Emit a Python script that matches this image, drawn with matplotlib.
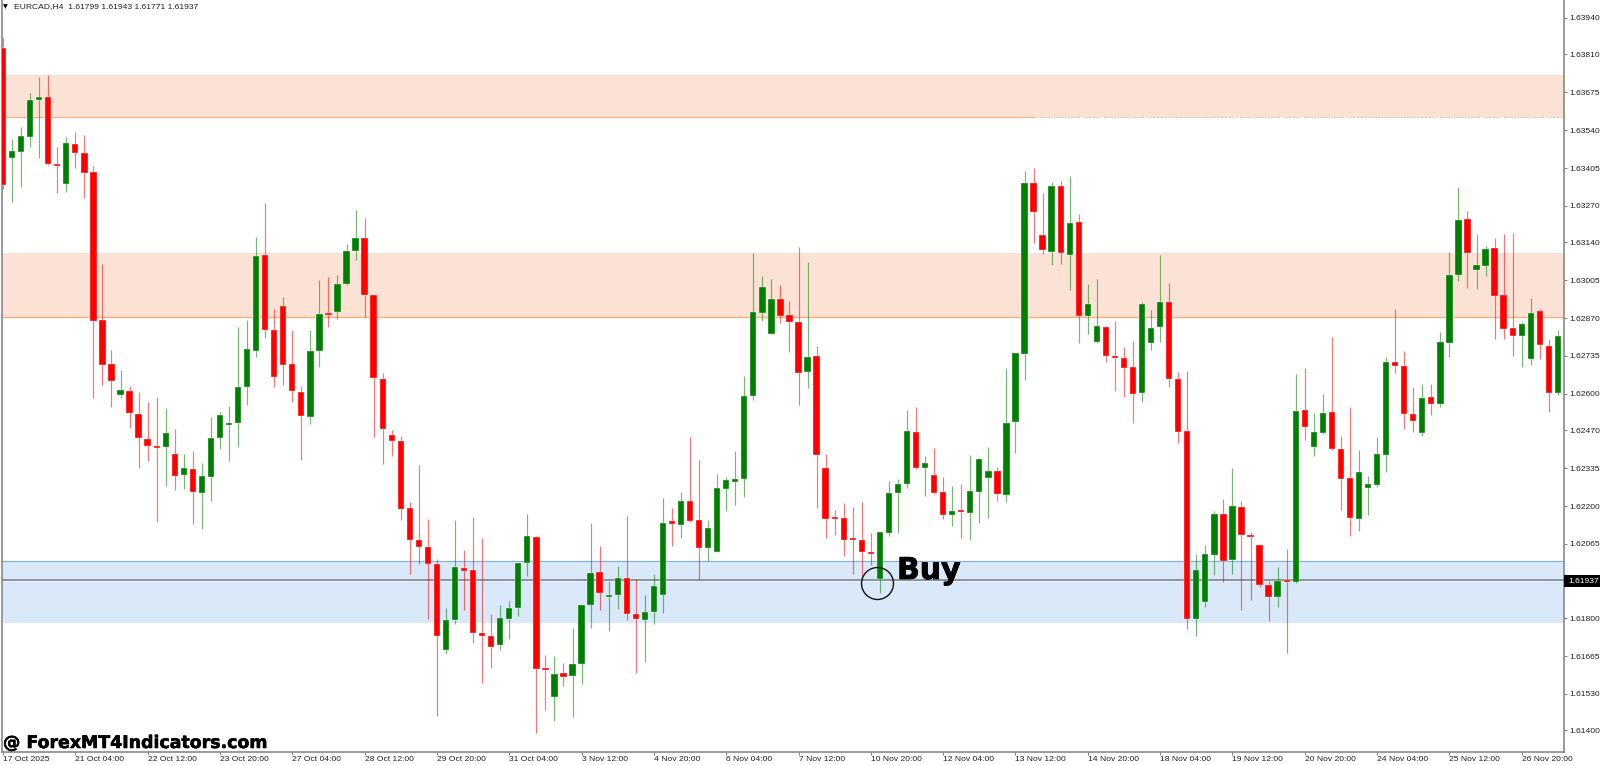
import matplotlib
matplotlib.use("Agg")
import numpy as np
import matplotlib.pyplot as plt
import matplotlib.patheffects as pe
from matplotlib.patches import Rectangle

# EURCAD H4 candles
opens = [1.63833, 1.63441, 1.63462, 1.63516, 1.63648, 1.63658, 1.63416, 1.63348, 1.63491, 1.63459, 1.63391, 1.62863, 1.62707, 1.62596, 1.62610, 1.62528, 1.62439, 1.62414, 1.62411, 1.62386, 1.62311, 1.62332, 1.62247, 1.62304, 1.62443,
         1.62489, 1.62496, 1.62625, 1.62753, 1.63095, 1.62828, 1.62913, 1.62707, 1.62607, 1.62518, 1.62753, 1.62885, 1.62892, 1.62992, 1.63109, 1.63156, 1.62953, 1.62653, 1.62453, 1.62432, 1.62193, 1.62079, 1.62054, 1.61994, 1.61687,
         1.61794, 1.61979, 1.61972, 1.61748, 1.61737, 1.61705, 1.61797, 1.61837, 1.61997, 1.62090, 1.61623, 1.61519, 1.61605, 1.61594, 1.61637, 1.61847, 1.61965, 1.61876, 1.61883, 1.61944, 1.61815, 1.61794, 1.61822, 1.61883, 1.62147,
         1.62133, 1.62218, 1.62150, 1.62051, 1.62036, 1.62261, 1.62286, 1.62297, 1.62592, 1.62888, 1.62814, 1.62938, 1.62881, 1.62856, 1.62678, 1.62735, 1.62336, 1.62158, 1.62158, 1.62083, 1.62079, 1.62036, 1.61940, 1.62104, 1.62247,
         1.62279, 1.62464, 1.62336, 1.62311, 1.62250, 1.62168, 1.62183, 1.62175, 1.62250, 1.62300, 1.62325, 1.62240, 1.62500, 1.62742, 1.63352, 1.63166, 1.63106, 1.63341, 1.63095, 1.63213, 1.62878, 1.62785, 1.62838, 1.62735, 1.62728,
         1.62696, 1.62603, 1.62781, 1.62838, 1.62928, 1.62653, 1.62468, 1.61797, 1.61858, 1.62026, 1.62172, 1.62008, 1.62197, 1.62097, 1.62061, 1.61919, 1.61876, 1.61937, 1.61929, 1.62543, 1.62411, 1.62461, 1.62535, 1.62404, 1.62300,
         1.62154, 1.62265, 1.62275, 1.62382, 1.62714, 1.62699, 1.62528, 1.62461, 1.62589, 1.62564, 1.62781, 1.63024, 1.63223, 1.63042, 1.63056, 1.63120, 1.62953, 1.62835, 1.62806, 1.62724, 1.62896, 1.62771, 1.62603]
highs = [1.63872, 1.63509, 1.63551, 1.63673, 1.63730, 1.63737, 1.63480, 1.63516, 1.63534, 1.63523, 1.63412, 1.63063, 1.62756, 1.62685, 1.62628, 1.62607, 1.62571, 1.62589, 1.62550, 1.62475, 1.62386, 1.62396, 1.62354, 1.62518, 1.62535,
         1.62557, 1.62838, 1.62863, 1.63159, 1.63281, 1.62903, 1.62945, 1.62828, 1.62628, 1.62828, 1.63006, 1.63017, 1.63024, 1.63134, 1.63256, 1.63227, 1.62953, 1.62674, 1.62471, 1.62450, 1.62215, 1.62347, 1.62154, 1.62011, 1.61837,
         1.62150, 1.62043, 1.62161, 1.62086, 1.61815, 1.61847, 1.61862, 1.61997, 1.62172, 1.62093, 1.61669, 1.61666, 1.61641, 1.61765, 1.61847, 1.62140, 1.62058, 1.61933, 1.61986, 1.62165, 1.61940, 1.61883, 1.61958, 1.62229, 1.62193,
         1.62250, 1.62446, 1.62364, 1.62150, 1.62314, 1.62304, 1.62396, 1.62664, 1.63102, 1.63020, 1.63010, 1.62988, 1.62931, 1.63124, 1.63070, 1.62771, 1.62386, 1.62186, 1.62211, 1.62197, 1.62215, 1.62104, 1.62108, 1.62289, 1.62297,
         1.62543, 1.62553, 1.62379, 1.62407, 1.62304, 1.62272, 1.62279, 1.62382, 1.62368, 1.62411, 1.62339, 1.62692, 1.62746, 1.63395, 1.63405, 1.63316, 1.63355, 1.63359, 1.63377, 1.63241, 1.62992, 1.63010, 1.62842, 1.62860, 1.62767,
         1.62789, 1.62928, 1.62899, 1.63095, 1.62995, 1.62678, 1.62682, 1.62029, 1.62061, 1.62183, 1.62225, 1.62336, 1.62218, 1.62108, 1.62061, 1.61933, 1.61983, 1.62047, 1.62671, 1.62692, 1.62532, 1.62600, 1.62803, 1.62450, 1.62553,
         1.62400, 1.62307, 1.62446, 1.62732, 1.62903, 1.62753, 1.62625, 1.62635, 1.62635, 1.62821, 1.63106, 1.63338, 1.63252, 1.63170, 1.63127, 1.63156, 1.63170, 1.63174, 1.62856, 1.62942, 1.62903, 1.62796, 1.62828]
lows = [1.63330, 1.63284, 1.63338, 1.63480, 1.63441, 1.63416, 1.63316, 1.63320, 1.63405, 1.63298, 1.62585, 1.62632, 1.62553, 1.62585, 1.62478, 1.62336, 1.62361, 1.62143, 1.62272, 1.62257, 1.62261, 1.62136, 1.62118, 1.62218, 1.62404,
        1.62361, 1.62411, 1.62560, 1.62732, 1.62799, 1.62625, 1.62632, 1.62571, 1.62364, 1.62493, 1.62696, 1.62838, 1.62867, 1.62988, 1.63077, 1.62874, 1.62446, 1.62350, 1.62379, 1.62150, 1.61958, 1.61994, 1.61797, 1.61452, 1.61673,
        1.61780, 1.61830, 1.61712, 1.61569, 1.61623, 1.61687, 1.61726, 1.61808, 1.61951, 1.61391, 1.61473, 1.61434, 1.61559, 1.61448, 1.61566, 1.61765, 1.61830, 1.61755, 1.61833, 1.61794, 1.61605, 1.61644, 1.61780, 1.61819, 1.62058,
        1.62086, 1.62143, 1.61937, 1.62004, 1.62036, 1.62183, 1.62204, 1.62232, 1.62578, 1.62860, 1.62814, 1.62853, 1.62749, 1.62560, 1.62621, 1.62193, 1.62086, 1.62097, 1.62022, 1.61958, 1.61944, 1.61990, 1.61890, 1.62093, 1.62104,
        1.62265, 1.62332, 1.62236, 1.62243, 1.62154, 1.62129, 1.62086, 1.62079, 1.62140, 1.62158, 1.62218, 1.62215, 1.62389, 1.62650, 1.63138, 1.63099, 1.63060, 1.63063, 1.62970, 1.62781, 1.62814, 1.62781, 1.62714, 1.62610, 1.62589,
        1.62496, 1.62571, 1.62756, 1.62785, 1.62625, 1.62425, 1.61762, 1.61737, 1.61840, 1.61954, 1.61929, 1.61958, 1.61830, 1.61865, 1.61912, 1.61790, 1.61840, 1.61676, 1.61926, 1.62436, 1.62379, 1.62457, 1.62400, 1.62186, 1.62093,
        1.62111, 1.62168, 1.62268, 1.62322, 1.62674, 1.62475, 1.62464, 1.62450, 1.62525, 1.62553, 1.62732, 1.63002, 1.62978, 1.62974, 1.63020, 1.62796, 1.62796, 1.62735, 1.62696, 1.62703, 1.62724, 1.62535, 1.62596]
closes = [1.63345, 1.63466, 1.63519, 1.63648, 1.63658, 1.63420, 1.63412, 1.63494, 1.63459, 1.63387, 1.62860, 1.62703, 1.62646, 1.62614, 1.62532, 1.62443, 1.62414, 1.62407, 1.62461, 1.62307, 1.62336, 1.62250, 1.62307, 1.62443, 1.62525,
          1.62496, 1.62625, 1.62760, 1.63092, 1.62828, 1.62660, 1.62703, 1.62610, 1.62521, 1.62753, 1.62885, 1.62881, 1.62992, 1.63109, 1.63156, 1.62953, 1.62657, 1.62475, 1.62432, 1.62190, 1.62079, 1.62054, 1.61994, 1.61737, 1.61794,
          1.61983, 1.61969, 1.61748, 1.61737, 1.61698, 1.61801, 1.61837, 1.61997, 1.62093, 1.61619, 1.61616, 1.61601, 1.61591, 1.61637, 1.61847, 1.61961, 1.61890, 1.61883, 1.61944, 1.61815, 1.61797, 1.61822, 1.61915, 1.62140, 1.62136,
          1.62218, 1.62147, 1.62051, 1.62122, 1.62265, 1.62293, 1.62297, 1.62592, 1.62892, 1.62981, 1.62938, 1.62878, 1.62856, 1.62674, 1.62732, 1.62382, 1.62154, 1.62154, 1.62079, 1.62079, 1.62036, 1.62029, 1.62108, 1.62247, 1.62279,
          1.62468, 1.62336, 1.62354, 1.62247, 1.62168, 1.62183, 1.62179, 1.62254, 1.62368, 1.62325, 1.62243, 1.62496, 1.62746, 1.63352, 1.63248, 1.63113, 1.63341, 1.63102, 1.63209, 1.62878, 1.62920, 1.62842, 1.62735, 1.62728, 1.62692,
          1.62600, 1.62920, 1.62835, 1.62928, 1.62653, 1.62464, 1.61797, 1.61972, 1.62029, 1.62172, 1.62004, 1.62200, 1.62097, 1.62090, 1.61919, 1.61876, 1.61933, 1.61929, 1.62539, 1.62482, 1.62464, 1.62532, 1.62404, 1.62297, 1.62158,
          1.62322, 1.62279, 1.62386, 1.62714, 1.62699, 1.62528, 1.62503, 1.62585, 1.62564, 1.62785, 1.63024, 1.63220, 1.63102, 1.63060, 1.63117, 1.62949, 1.62831, 1.62806, 1.62849, 1.62888, 1.62774, 1.62603, 1.62806]

date_labels = ["17 Oct 2025", "21 Oct 04:00", "22 Oct 12:00", "23 Oct 20:00", "27 Oct 04:00", "28 Oct 12:00",
               "29 Oct 20:00", "31 Oct 04:00", "3 Nov 12:00", "4 Nov 20:00", "6 Nov 04:00", "7 Nov 12:00",
               "10 Nov 20:00", "12 Nov 04:00", "13 Nov 12:00", "14 Nov 20:00", "18 Nov 04:00", "19 Nov 12:00",
               "20 Nov 20:00", "24 Nov 04:00", "25 Nov 12:00", "26 Nov 20:00"]
price_ticks = [1.63940, 1.63810, 1.63675, 1.63540, 1.63405, 1.63270, 1.63140, 1.63005, 1.62870, 1.62735,
               1.62600, 1.62470, 1.62335, 1.62200, 1.62065, 1.61800, 1.61665, 1.61530, 1.61400]

# supply / demand zones
sell_zones = [(1.63587, 1.63737), (1.62874, 1.63102)]
buy_zone = (1.61783, 1.62004)
bid = 1.61937

W, H = 1600, 765
GREEN, RED = "#008000", "#ff0000"
AXIS = "#7f7f7f"
TXT = "#222222"
FONT = "Liberation Sans"

fig = plt.figure(figsize=(W / 100, H / 100), dpi=100, facecolor="white")
ax = fig.add_axes([2 / W, 1 - 752 / H, (1564 - 2) / W, 752 / H])

o, h, l, c = map(np.array, (opens, highs, lows, closes))
x = np.arange(len(o))
colors = np.where(c >= o, GREEN, RED)

for lo, hi in sell_zones:
    ax.axhspan(lo, hi, color="#fbe2d5", lw=0, zorder=1)
ax.axhspan(buy_zone[0], buy_zone[1], color="#d9e9f9", lw=0, zorder=1)

# zone edges, the top zone goes dotted past its anchor candle
ax.plot([-1, 114], [sell_zones[0][0]] * 2, color="#f4b183", lw=0.8, zorder=2)
ax.plot([114, 173], [sell_zones[0][0]] * 2, color="#f4b183", lw=0.8, ls=(0, (1, 1.5)), zorder=2)
ax.axhline(sell_zones[1][0], color="#f4b183", lw=1.0, zorder=2)
ax.axhline(buy_zone[1], color="#7fafdc", lw=0.8, zorder=2)

# bid line, with the pale edge under it
ax.axhline(bid - 0.00005, color="white", lw=1.2, alpha=0.55, zorder=2)
ax.axhline(bid, color="#868e94", lw=1.3, zorder=2.5)

ax.vlines(x, l, h, colors=colors, lw=0.85, alpha=0.55, zorder=3)
bottoms = np.minimum(o, c)
heights = np.maximum(np.abs(c - o), 0.00006)
ax.bar(x, heights, bottom=bottoms, width=0.7, color=colors, edgecolor="white", linewidth=0.25, zorder=4)

ax.set_xlim(-1 / 9.04, 1561 / 9.04)
ax.set_ylim(1.61323, 1.64004)

# Buy marker
heavy = [pe.withStroke(linewidth=0.6, foreground="black")]
ax.plot([96.7], [1.61926], marker="o", ms=23, mfc="none", mec="#111111", mew=1.0, zorder=6)
ax.text(98.9, 1.61940, "Buy", fontsize=21.5, fontweight="bold", family="DejaVu Sans", color="black",
        va="baseline", ha="left", zorder=7, path_effects=heavy)

ax.spines["top"].set_visible(False)
for s in ["left", "right", "bottom"]:
    ax.spines[s].set_color(AXIS)
    ax.spines[s].set_linewidth(1.1)
ax.yaxis.tick_right()
ax.set_yticks(price_ticks)
ax.set_yticklabels([f"{p:.5f}" for p in price_ticks], fontsize=6.1, family=FONT, color=TXT)
ax.set_xticks(np.arange(0, len(date_labels) * 8, 8))
ax.set_xticklabels(date_labels, fontsize=6.1, family=FONT, color=TXT, ha="left")
ax.tick_params(axis="y", length=2.5, width=0.7, color=AXIS, pad=1.2)
ax.tick_params(axis="x", length=2, width=0.7, color=AXIS, pad=1.2)

# header and current price box
fig.text(3 / W, 1 - 6.5 / H, "▼", fontsize=4.5, family="DejaVu Sans", color="black", va="center")
fig.text(14 / W, 1 - 6.5 / H, "EURCAD,H4  1.61799 1.61943 1.61771 1.61937", fontsize=6.1, family=FONT,
         color=TXT, va="center")
fig.add_artist(Rectangle((1564 / W, 1 - 587 / H), 36 / W, 12 / H, transform=fig.transFigure, color="black", lw=0))
fig.text(1568 / W, 1 - 581.5 / H, f"{bid:.5f}", fontsize=6.1, family=FONT, color="white", va="center")

fig.text(3 / W, 1 - 748 / H, "@ ForexMT4Indicators.com", fontsize=12.5, fontweight="bold", family="DejaVu Sans",
         color="black", va="baseline", path_effects=[pe.withStroke(linewidth=0.4, foreground="black")])

fig.savefig("out.png", dpi=100, facecolor="white")
